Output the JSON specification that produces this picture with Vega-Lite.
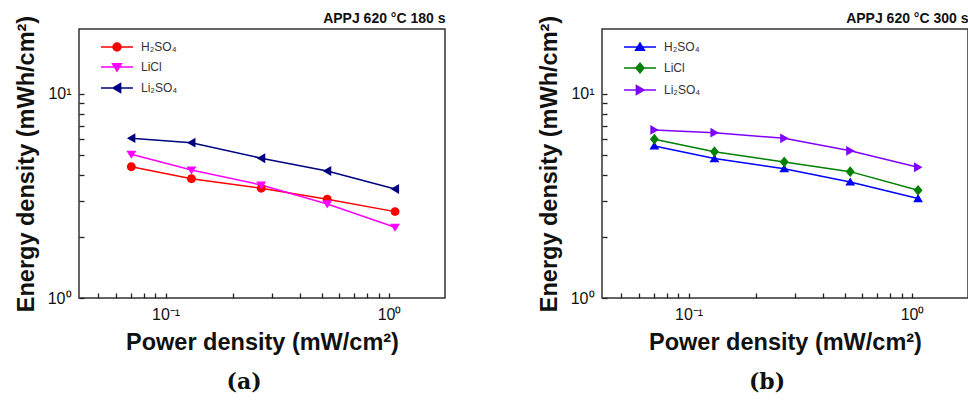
{
  "$schema": "https://vega.github.io/schema/vega-lite/v6.json",
  "background": "white",
  "padding": {"left": 13, "top": 10, "right": 0, "bottom": 0},
  "spacing": 90,
  "config": {
    "font": "Liberation Sans",
    "view": {"stroke": "#333333", "strokeWidth": 1.5},
    "axis": {"grid": false, "domain": false, "labelColor": "#111111", "labelFontSize": 16, "titleColor": "#111111", "titleFontSize": 23.5, "titleFontWeight": "bold"},
    "legend": {"labelFontSize": 12, "labelColor": "#333333", "symbolSize": 64, "symbolStrokeWidth": 1.5, "rowPadding": 6, "padding": 0, "labelOffset": 18, "title": null, "orient": "none", "legendX": 32, "legendY": 12}
  },
  "datasets": {
    "a": [
      {"p": 0.0703, "e": 4.40, "s": "H₂SO₄"}, {"p": 0.1306, "e": 3.84, "s": "H₂SO₄"}, {"p": 0.268, "e": 3.45, "s": "H₂SO₄"}, {"p": 0.529, "e": 3.05, "s": "H₂SO₄"}, {"p": 1.064, "e": 2.65, "s": "H₂SO₄"},
      {"p": 0.0703, "e": 5.06, "s": "LiCl"}, {"p": 0.1306, "e": 4.24, "s": "LiCl"}, {"p": 0.268, "e": 3.58, "s": "LiCl"}, {"p": 0.529, "e": 2.89, "s": "LiCl"}, {"p": 1.064, "e": 2.22, "s": "LiCl"},
      {"p": 0.0703, "e": 6.07, "s": "Li₂SO₄"}, {"p": 0.1306, "e": 5.77, "s": "Li₂SO₄"}, {"p": 0.268, "e": 4.84, "s": "Li₂SO₄"}, {"p": 0.529, "e": 4.19, "s": "Li₂SO₄"}, {"p": 1.064, "e": 3.42, "s": "Li₂SO₄"}
    ],
    "b": [
      {"p": 0.0703, "e": 5.56, "s": "H₂SO₄"}, {"p": 0.1306, "e": 4.82, "s": "H₂SO₄"}, {"p": 0.268, "e": 4.30, "s": "H₂SO₄"}, {"p": 0.529, "e": 3.70, "s": "H₂SO₄"}, {"p": 1.064, "e": 3.07, "s": "H₂SO₄"},
      {"p": 0.0703, "e": 6.00, "s": "LiCl"}, {"p": 0.1306, "e": 5.21, "s": "LiCl"}, {"p": 0.268, "e": 4.64, "s": "LiCl"}, {"p": 0.529, "e": 4.16, "s": "LiCl"}, {"p": 1.064, "e": 3.37, "s": "LiCl"},
      {"p": 0.0703, "e": 6.66, "s": "Li₂SO₄"}, {"p": 0.1306, "e": 6.46, "s": "Li₂SO₄"}, {"p": 0.268, "e": 6.06, "s": "Li₂SO₄"}, {"p": 0.529, "e": 5.26, "s": "Li₂SO₄"}, {"p": 1.064, "e": 4.37, "s": "Li₂SO₄"}
    ]
  },
  "hconcat": [
    {
      "width": 366, "height": 269,
      "data": {"name": "a"},
      "title": {"text": "(a)", "orient": "bottom", "frame": "group", "dx": -18, "font": "DejaVu Serif", "fontSize": 22, "fontWeight": "bold", "color": "#111111", "offset": 18},
      "encoding": {
        "x": {"field": "p", "type": "quantitative", "scale": {"type": "log", "domain": [0.041, 1.78], "nice": false},
          "axis": {"title": "Power density (mW/cm²)", "values": [0.05,0.06,0.07,0.08,0.09,0.1,0.2,0.3,0.4,0.5,0.6,0.7,0.8,0.9,1],
            "labelExpr": "datum.value == 0.1 ? '10⁻¹' : datum.value == 1 ? '10⁰' : ''",
            "ticks": true, "tickColor": "#222222", "tickWidth": 1.3, "tickSize": -5,
            "labelPadding": 13, "titlePadding": 8, "labelFlush": false, "labelOverlap": false}},
        "y": {"field": "e", "type": "quantitative", "scale": {"type": "log", "domain": [1, 20.8], "nice": false},
          "axis": {"title": "Energy density (mWh/cm²)", "values": [1,2,3,4,5,6,7,8,9,10],
            "labelExpr": "datum.value == 1 ? '10⁰' : datum.value == 10 ? '10¹' : ''",
            "ticks": true, "tickColor": "#222222", "tickWidth": 1.3, "tickSize": -5,
            "labelPadding": 13, "titlePadding": 9, "labelFlush": false, "labelOverlap": false}},
        "color": {"field": "s", "type": "nominal", "scale": {"domain": ["H₂SO₄", "LiCl", "Li₂SO₄"], "range": ["#ff0000", "#ff00ff", "#000080"]}}
      },
      "layer": [
        {"mark": {"type": "line", "strokeWidth": 1.5}},
        {"mark": {"type": "point", "filled": true, "size": 80, "opacity": 1},
          "encoding": {
            "x": {"field": "p", "type": "quantitative", "axis": {"orient": "top", "labels": false, "ticks": false, "domain": false, "title": "APPJ 620 °C 180 s", "titleAnchor": "end", "titleFontSize": 14, "titleFontWeight": "bold", "titlePadding": 4}},
            "shape": {"field": "s", "type": "nominal", "scale": {"domain": ["H₂SO₄", "LiCl", "Li₂SO₄"], "range": ["M-4,0L4,0M-1,0A1,1,0,1,1,1,0A1,1,0,1,1,-1,0Z", "M-4,0L4,0M-1.1,-0.8L1.1,-0.8L0,1Z", "M-4,0L4,0M0.9,-1.1L0.9,1.1L-1,0Z"]}}
          }}
      ],
      "resolve": {"axis": {"x": "independent"}}
    },
    {
      "width": 366, "height": 269,
      "data": {"name": "b"},
      "title": {"text": "(b)", "orient": "bottom", "frame": "group", "dx": -18, "font": "DejaVu Serif", "fontSize": 22, "fontWeight": "bold", "color": "#111111", "offset": 18},
      "encoding": {
        "x": {"field": "p", "type": "quantitative", "scale": {"type": "log", "domain": [0.041, 1.78], "nice": false},
          "axis": {"title": "Power density (mW/cm²)", "values": [0.05,0.06,0.07,0.08,0.09,0.1,0.2,0.3,0.4,0.5,0.6,0.7,0.8,0.9,1],
            "labelExpr": "datum.value == 0.1 ? '10⁻¹' : datum.value == 1 ? '10⁰' : ''",
            "ticks": true, "tickColor": "#222222", "tickWidth": 1.3, "tickSize": -5,
            "labelPadding": 13, "titlePadding": 8, "labelFlush": false, "labelOverlap": false}},
        "y": {"field": "e", "type": "quantitative", "scale": {"type": "log", "domain": [1, 20.8], "nice": false},
          "axis": {"title": "Energy density (mWh/cm²)", "values": [1,2,3,4,5,6,7,8,9,10],
            "labelExpr": "datum.value == 1 ? '10⁰' : datum.value == 10 ? '10¹' : ''",
            "ticks": true, "tickColor": "#222222", "tickWidth": 1.3, "tickSize": -5,
            "labelPadding": 13, "titlePadding": 9, "labelFlush": false, "labelOverlap": false}},
        "color": {"field": "s", "type": "nominal", "scale": {"domain": ["H₂SO₄", "LiCl", "Li₂SO₄"], "range": ["#0000ff", "#008000", "#8000ff"]}}
      },
      "layer": [
        {"mark": {"type": "line", "strokeWidth": 1.5}},
        {"mark": {"type": "point", "filled": true, "size": 80, "opacity": 1},
          "encoding": {
            "x": {"field": "p", "type": "quantitative", "axis": {"orient": "top", "labels": false, "ticks": false, "domain": false, "title": "APPJ 620 °C 300 s", "titleAnchor": "end", "titleFontSize": 14, "titleFontWeight": "bold", "titlePadding": 4}},
            "shape": {"field": "s", "type": "nominal", "scale": {"domain": ["H₂SO₄", "LiCl", "Li₂SO₄"], "range": ["M-4,0L4,0M-1.1,0.8L1.1,0.8L0,-1Z", "M-4,0L4,0M0,-1.2L1,0L0,1.2L-1,0Z", "M-4,0L4,0M-0.9,-1.1L-0.9,1.1L1,0Z"]}}
          }}
      ],
      "resolve": {"axis": {"x": "independent"}}
    }
  ],
  "resolve": {"scale": {"color": "independent", "shape": "independent"}, "legend": {"color": "independent", "shape": "independent"}}
}
